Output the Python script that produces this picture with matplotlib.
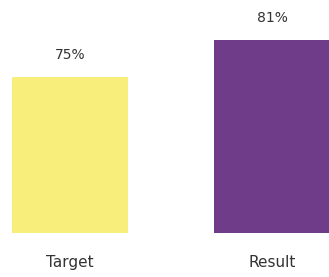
import matplotlib
matplotlib.use("Agg")
import matplotlib.pyplot as plt

categories = ["Target", "Result"]
values = [75, 81]
labels = ["75%", "81%"]
colors = ["#F8EE7C", "#6E3C88"]

fig = plt.figure(figsize=(3.29, 2.77), dpi=100)
ax = fig.add_axes([0, (277 - 233) / 277, 1, 233 / 277])
x = [0, 1]
ax.bar(x, values, width=0.57, color=colors, bottom=0)
ax.set_xlim(-70 / 202, 1 + 57 / 202)
ax.set_ylim(50, 50 + 233 / 6.226)
for xi, v, lab in zip(x, values, labels):
    ax.annotate(lab, (xi, v), xytext=(0, 16), textcoords="offset points",
                ha="center", va="center", fontsize=10, color="#333333",
                family="DejaVu Sans")
for xi, c in zip(x, categories):
    ax.annotate(c, (xi, 50), xytext=(0, -21), textcoords="offset points",
                ha="center", va="center", fontsize=11, color="#333333",
                family="DejaVu Sans", annotation_clip=False)
ax.axis("off")
fig.savefig("out.png", dpi=100)
